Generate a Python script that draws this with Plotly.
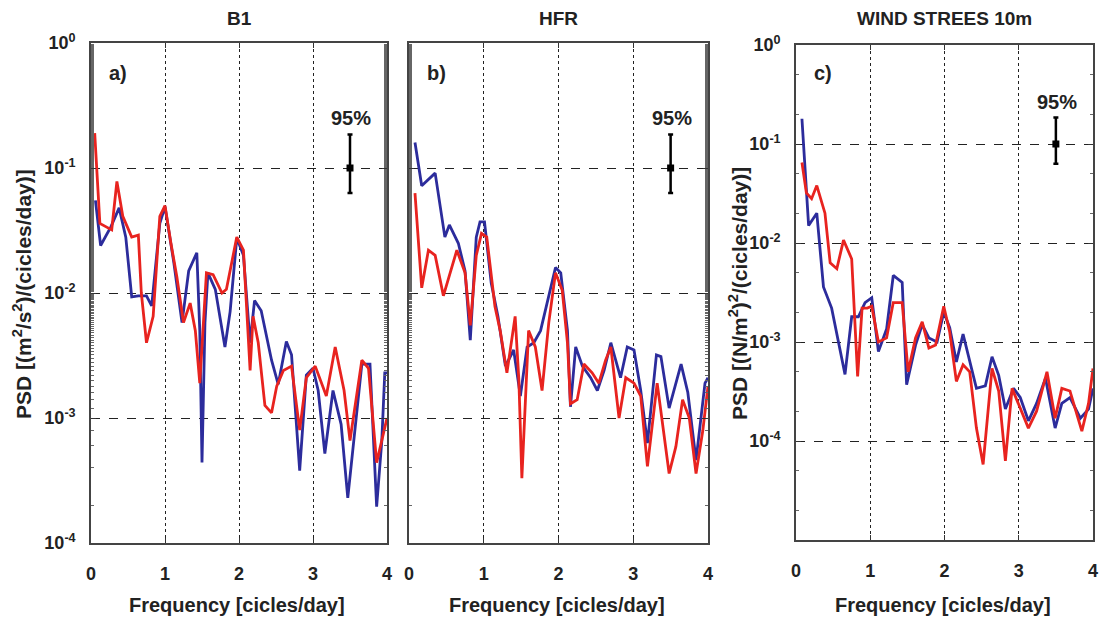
import plotly.graph_objects as go

# ---------------- data ----------------
# Panel a) B1
f_a_red = [0.05, 0.12, 0.28, 0.35, 0.43, 0.55, 0.64, 0.68, 0.75, 0.84, 0.93, 1.00, 1.08, 1.16, 1.25, 1.34,
           1.41, 1.47, 1.56, 1.65, 1.77, 1.83, 1.97, 2.06, 2.15, 2.19, 2.26, 2.35, 2.44, 2.51, 2.60, 2.71,
           2.82, 2.91, 3.03, 3.18, 3.30, 3.42, 3.50, 3.66, 3.75, 3.86, 4.00]
psd_a_red = [1.9e-1, 3.6e-2, 3.2e-2, 7.8e-2, 4.1e-2, 2.8e-2, 2.9e-2, 1.0e-2, 4.0e-3, 6.5e-3, 4.1e-2, 5.0e-2,
             2.5e-2, 1.35e-2, 5.8e-3, 8.3e-3, 5.0e-3, 1.9e-3, 1.45e-2, 1.4e-2, 1.0e-2, 1.07e-2, 2.8e-2, 2.2e-2,
             2.4e-3, 6.5e-3, 4.0e-3, 1.26e-3, 1.1e-3, 1.8e-3, 2.4e-3, 2.6e-3, 8.0e-4, 2.1e-3, 2.6e-3, 1.5e-3,
             3.7e-3, 1.66e-3, 6.6e-4, 2.9e-3, 2.5e-3, 4.4e-4, 1.0e-3]
f_a_blue = [0.06, 0.13, 0.27, 0.38, 0.47, 0.55, 0.64, 0.75, 0.82, 0.93, 1.00, 1.12, 1.23, 1.32, 1.43, 1.47,
            1.50, 1.54, 1.58, 1.68, 1.81, 1.88, 1.97, 2.06, 2.15, 2.21, 2.30, 2.44, 2.53, 2.64, 2.71, 2.82,
            2.91, 3.00, 3.07, 3.16, 3.27, 3.38, 3.47, 3.59, 3.66, 3.77, 3.86, 3.93, 3.97, 4.00]
psd_a_blue = [5.5e-2, 2.4e-2, 3.4e-2, 4.8e-2, 2.8e-2, 9.3e-3, 9.5e-3, 9.5e-3, 7.9e-3, 3.6e-2, 4.9e-2, 1.74e-2,
              5.8e-3, 1.5e-2, 2.1e-2, 5.0e-3, 4.4e-4, 5.8e-3, 1.45e-2, 1.07e-2, 3.7e-3, 7.1e-3, 2.75e-2, 2.0e-2,
              4.0e-3, 8.7e-3, 7.2e-3, 2.9e-3, 1.86e-3, 4.1e-3, 3.2e-3, 3.8e-4, 2.2e-3, 2.5e-3, 1.66e-3, 5.2e-4,
              1.66e-3, 8.9e-4, 2.3e-4, 1.07e-3, 2.7e-3, 2.7e-3, 1.95e-4, 6.6e-4, 2.3e-3, 2.3e-3]

# Panel b) HFR
f_b_red = [0.08, 0.17, 0.26, 0.35, 0.46, 0.64, 0.75, 0.82, 0.90, 0.97, 1.04, 1.15, 1.22, 1.31, 1.42, 1.47,
           1.51, 1.60, 1.69, 1.78, 1.87, 1.96, 2.05, 2.12, 2.16, 2.25, 2.34, 2.45, 2.54, 2.63, 2.70, 2.81,
           2.90, 3.01, 3.10, 3.19, 3.32, 3.48, 3.57, 3.66, 3.75, 3.84, 3.93, 4.00]
psd_b_red = [6.3e-2, 1.1e-2, 2.2e-2, 2.0e-2, 9.5e-3, 2.2e-2, 1.45e-2, 5.5e-3, 2.0e-2, 3.0e-2, 2.8e-2, 7.8e-3,
             5.0e-3, 2.3e-3, 6.5e-3, 2.0e-3, 3.3e-4, 5.0e-3, 3.7e-3, 1.66e-3, 5.8e-3, 1.45e-2, 1.05e-2, 4.0e-3,
             1.3e-3, 1.4e-3, 2.7e-3, 2.3e-3, 1.9e-3, 2.9e-3, 3.7e-3, 1.0e-3, 2.1e-3, 1.9e-3, 1.5e-3, 4.1e-4,
             1.9e-3, 3.6e-4, 5.9e-4, 1.4e-3, 1.0e-3, 3.6e-4, 7.9e-4, 1.8e-3]
f_b_blue = [0.08, 0.17, 0.35, 0.48, 0.54, 0.66, 0.75, 0.82, 0.90, 0.95, 1.01, 1.10, 1.19, 1.29, 1.40, 1.49,
            1.58, 1.67, 1.76, 1.87, 1.96, 2.03, 2.12, 2.16, 2.23, 2.32, 2.43, 2.52, 2.61, 2.70, 2.83, 2.92,
            3.01, 3.10, 3.19, 3.31, 3.37, 3.48, 3.64, 3.73, 3.84, 3.96, 4.00]
psd_b_blue = [1.6e-1, 7.2e-2, 9.1e-2, 2.8e-2, 3.5e-2, 2.5e-2, 1.5e-2, 4.2e-3, 2.8e-2, 3.7e-2, 3.7e-2, 1.2e-2,
              6.5e-3, 2.6e-3, 3.5e-3, 1.5e-3, 3.7e-3, 4.0e-3, 5.0e-3, 9.3e-3, 1.6e-2, 1.45e-2, 5.0e-3, 1.23e-3,
              3.7e-3, 2.6e-3, 2.1e-3, 1.66e-3, 2.4e-3, 4.0e-3, 2.1e-3, 3.7e-3, 3.5e-3, 1.66e-3, 6.3e-4, 3.2e-3,
              3.1e-3, 1.2e-3, 2.7e-3, 1.6e-3, 4.6e-4, 1.9e-3, 2.1e-3]

# Panel c) WIND STRESS 10m
f_c_red = [0.08, 0.14, 0.21, 0.28, 0.39, 0.46, 0.55, 0.64, 0.75, 0.80, 0.83, 0.89, 0.96, 1.02, 1.11, 1.22,
           1.31, 1.43, 1.51, 1.61, 1.70, 1.79, 1.88, 1.99, 2.07, 2.16, 2.25, 2.34, 2.43, 2.52, 2.64, 2.73,
           2.82, 2.91, 3.02, 3.13, 3.24, 3.38, 3.49, 3.58, 3.69, 3.85, 3.94, 4.00]
psd_c_red = [6.5e-2, 3.2e-2, 2.8e-2, 3.8e-2, 2.0e-2, 6.3e-3, 5.5e-3, 1.07e-2, 6.9e-3, 1.1e-3, 4.5e-4, 2.2e-3,
             2.2e-3, 2.3e-3, 1.0e-3, 1.1e-3, 2.5e-3, 2.5e-3, 5.0e-4, 1.1e-3, 1.6e-3, 8.7e-4, 9.3e-4, 2.3e-3,
             1.26e-3, 4.0e-4, 5.9e-4, 5.0e-4, 1.35e-4, 5.8e-5, 5.4e-4, 3.2e-4, 6.3e-5, 3.4e-4, 2.1e-4, 1.35e-4,
             2.0e-4, 5.0e-4, 1.7e-4, 3.4e-4, 3.2e-4, 1.26e-4, 2.4e-4, 5.4e-4]
f_c_blue = [0.08, 0.12, 0.17, 0.28, 0.37, 0.48, 0.57, 0.66, 0.75, 0.84, 0.93, 1.02, 1.11, 1.22, 1.31, 1.43,
            1.49, 1.61, 1.70, 1.79, 1.90, 1.99, 2.07, 2.16, 2.25, 2.34, 2.43, 2.55, 2.64, 2.73, 2.82, 2.93,
            3.02, 3.13, 3.24, 3.36, 3.49, 3.58, 3.69, 3.83, 3.94, 4.00]
psd_c_blue = [1.8e-1, 6.5e-2, 1.5e-2, 2.0e-2, 3.6e-3, 2.2e-3, 1.0e-3, 4.7e-4, 1.8e-3, 1.8e-3, 2.5e-3, 2.8e-3,
              8.0e-4, 1.35e-3, 4.7e-3, 4.0e-3, 3.7e-4, 9.3e-4, 1.5e-3, 1.1e-3, 1.0e-3, 2.0e-3, 1.4e-3, 6.3e-4,
              1.2e-3, 6.3e-4, 3.4e-4, 3.6e-4, 7.1e-4, 4.6e-4, 2.1e-4, 3.4e-4, 2.75e-4, 1.6e-4, 2.4e-4, 4.3e-4,
              1.35e-4, 2.4e-4, 2.75e-4, 1.7e-4, 2.1e-4, 3.4e-4]

# 95% confidence bar
ci_f = [3.5]
ci_center = [0.1]
ci_upper = [0.085]
ci_lower = [0.037]

panel_titles = ["B1", "HFR", "WIND STREES 10m"]
panel_letters = ["a)", "b)", "c)"]
x_ticks = [0, 1, 2, 3, 4]
y_ticks = [1e0, 1e-1, 1e-2, 1e-3, 1e-4]
y_text = ["<b>10<sup>0</sup></b>", "<b>10<sup>-1</sup></b>", "<b>10<sup>-2</sup></b>",
          "<b>10<sup>-3</sup></b>", "<b>10<sup>-4</sup></b>"]
x_text = ["<b>0</b>", "<b>1</b>", "<b>2</b>", "<b>3</b>", "<b>4</b>"]

BLUE = "#2c2c9c"
RED = "#e8231f"
FONT = "Liberation Sans, Arial, sans-serif"
TXT = "#222"

W, H = 1101, 626
# plot boxes in pixels (left, right, top, bottom)
boxes = [(91, 387, 43, 543), (409, 708, 43, 543), (796, 1093, 45, 540)]

fig = go.Figure()

series = [
    (f_a_blue, psd_a_blue, f_a_red, psd_a_red),
    (f_b_blue, psd_b_blue, f_b_red, psd_b_red),
    (f_c_blue, psd_c_blue, f_c_red, psd_c_red),
]

for i, (fb, pb, fr, pr) in enumerate(series):
    xa = "x" if i == 0 else f"x{i+1}"
    ya = "y" if i == 0 else f"y{i+1}"
    fig.add_trace(go.Scatter(x=fb, y=pb, mode="lines", line=dict(color=BLUE, width=2.8),
                             xaxis=xa, yaxis=ya, showlegend=False))
    fig.add_trace(go.Scatter(x=fr, y=pr, mode="lines", line=dict(color=RED, width=2.8),
                             xaxis=xa, yaxis=ya, showlegend=False))
    fig.add_trace(go.Scatter(x=ci_f, y=ci_center, mode="markers",
                             marker=dict(symbol="square", size=7, color="black"),
                             error_y=dict(type="data", symmetric=False, array=ci_upper, arrayminus=ci_lower,
                                          color="black", thickness=2.5, width=2.5),
                             xaxis=xa, yaxis=ya, showlegend=False))

layout = dict(width=W, height=H, margin=dict(l=0, r=0, t=0, b=0, autoexpand=False),
              paper_bgcolor="white", plot_bgcolor="white", showlegend=False)

annotations = []
for i, (l, r, t, b) in enumerate(boxes):
    xk = "xaxis" if i == 0 else f"xaxis{i+1}"
    yk = "yaxis" if i == 0 else f"yaxis{i+1}"
    xa = "x" if i == 0 else f"x{i+1}"
    ya = "y" if i == 0 else f"y{i+1}"
    yr = [-4, 0] if i < 2 else [-5, 0]
    ydom = [1 - b / H, 1 - t / H]
    layout[xk] = dict(domain=[l / W, r / W], range=[0, 4], tickvals=x_ticks, ticktext=x_text,
                      ticks="inside", ticklen=5, tickcolor="#333", ticklabelstandoff=14,
                      ticklabeloverflow="allow",
                      showline=True, linecolor="#444", linewidth=1.6, mirror="ticks",
                      showgrid=True, gridcolor="#222", griddash="dot", gridwidth=1.4,
                      zeroline=False, anchor=ya, automargin=False,
                      tickfont=dict(family=FONT, size=18, color=TXT))
    layout[yk] = dict(domain=ydom, type="log", range=yr,
                      tickvals=y_ticks, ticktext=y_text,
                      showticklabels=(i != 1),
                      ticks="inside", ticklen=5, tickcolor="#333", ticklabelstandoff=10,
                      minor=dict(ticks="inside", ticklen=3, tickcolor="#666", tickwidth=1, showgrid=False),
                      showline=True, linecolor="#444", linewidth=1.6, mirror="ticks",
                      showgrid=True, gridcolor="#222", griddash="dash", gridwidth=1.4,
                      zeroline=False, anchor=xa, automargin=False,
                      tickfont=dict(family=FONT, size=18, color=TXT))
    cx = (l + r) / 2
    annotations.append(dict(text=f"<b>{panel_titles[i]}</b>", x=cx / W, y=1 - 18 / H, xref="paper", yref="paper",
                            showarrow=False, font=dict(family=FONT, size=19, color=TXT),
                            xanchor="center", yanchor="middle"))
    annotations.append(dict(text="<b>Frequency [cicles/day]</b>", x=(cx - 2) / W, y=1 - 605 / H,
                            xref="paper", yref="paper", showarrow=False,
                            font=dict(family=FONT, size=20, color=TXT),
                            xanchor="center", yanchor="middle"))
    # annotation coordinates on a log axis are given as log10 of the value
    annotations.append(dict(text=f"<b>{panel_letters[i]}</b>", x=0.37, y=-0.24 if i < 2 else -0.28,
                            xref=xa, yref=ya, showarrow=False,
                            font=dict(family=FONT, size=20, color=TXT),
                            xanchor="center", yanchor="middle"))
    annotations.append(dict(text="<b>95%</b>", x=3.52, y=-0.6 if i < 2 else -0.58,
                            xref=xa, yref=ya, showarrow=False,
                            font=dict(family=FONT, size=20, color=TXT),
                            xanchor="center", yanchor="middle"))

annotations.append(dict(text="<b>PSD [(m<sup>2</sup>/s<sup>2</sup>)/(cicles/day)]</b>", x=22 / W, y=1 - 294 / H,
                        xref="paper", yref="paper", showarrow=False, textangle=-90,
                        font=dict(family=FONT, size=21, color=TXT), xanchor="center", yanchor="middle"))
annotations.append(dict(text="<b>PSD [(N/m<sup>2</sup>)<sup>2</sup>/(cicles/day)]</b>", x=738 / W, y=1 - 294 / H,
                        xref="paper", yref="paper", showarrow=False, textangle=-90,
                        font=dict(family=FONT, size=21, color=TXT), xanchor="center", yanchor="middle"))

layout["annotations"] = annotations
fig.update_layout(**layout)
fig.write_html("out.html", config={"displayModeBar": False},
               post_script="document.body.style.margin='0';document.body.style.overflow='hidden';")
